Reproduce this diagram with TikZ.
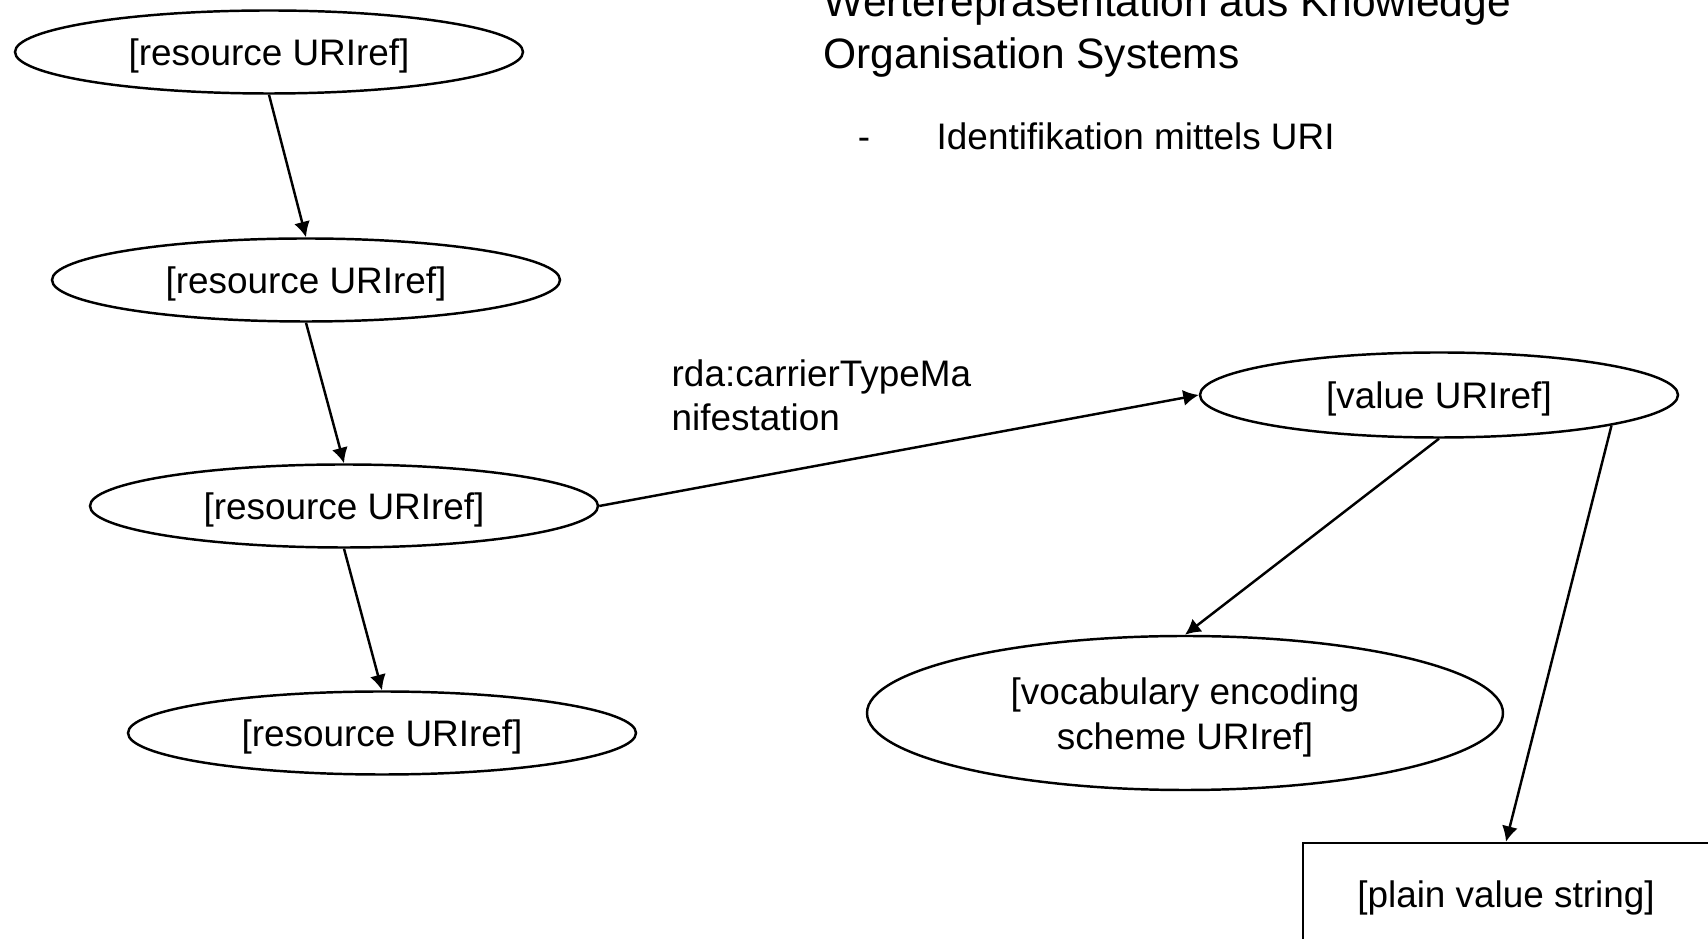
\documentclass[tikz,border=0pt]{standalone}
\usepackage{fontspec}
\setmainfont{Liberation Sans}
\usepackage{tikz}
\usetikzlibrary{shapes.geometric , arrows.meta}

\begin{document}
\begin{tikzpicture}[
    knoten/.style = {ellipse , draw , line width = 0.7pt , inner sep = 0pt , minimum width = 5.08cm , minimum height = 0.83cm , text height = 0.97em , text depth = 0.21em , font = \fontsize{10.5}{12.6}\selectfont},
    pfeil/.style = {line width = 0.7pt , -{Latex[length = 4.4pt , width = 4.6pt]}},
    schrift/.style = {font = \fontsize{10.5}{12.6}\selectfont , inner sep = 0pt}
]
    \useasboundingbox (0,0) rectangle (17.08,-9.39);
    \clip (0,0) rectangle (17.08,-9.39);

    % Ressourcen
    \node[knoten] (res1) at (2.69,-0.52) {[resource URIref]};
    \node[knoten] (res2) at (3.06,-2.80) {[resource URIref]};
    \node[knoten] (res3) at (3.44,-5.06) {[resource URIref]};
    \node[knoten] (res4) at (3.82,-7.33) {[resource URIref]};

    % Werte
    \node[knoten , minimum width = 4.78cm , minimum height = 0.85cm] (wert) at (14.39,-3.95) {[value URIref]};
    \node[knoten , text height = , text depth = , minimum width = 6.36cm , minimum height = 1.54cm , align = center] (vokab) at (11.85,-7.13) {\rule{0pt}{0.97em}[vocabulary encoding\\scheme URIref]};
    \node[draw , line width = 0.7pt , schrift , text height = 0.97em , text depth = 0.21em , minimum width = 4.06cm , minimum height = 1.02cm] (string) at (15.06,-8.94) {[plain value string]};

    % Kanten
    \draw[pfeil] (res1.south) -- (res2.north);
    \draw[pfeil] (res2.south) -- (res3.north);
    \draw[pfeil] (res3.south) -- (res4.north);
    \draw[pfeil] (res3.east) -- (wert.west);
    \draw[pfeil] (wert.south) -- (vokab.north);
    \draw[pfeil] (wert.-10) -- (string.north);
    \node[schrift , anchor = west , align = left] (eigenschaft) at (6.71,-3.95) {rda:carrierTypeMa\\nifestation};

    % Text oben
    \node[anchor = west , align = left , inner sep = 0pt , font = \fontsize{12.1}{14.8}\selectfont] (titel) at (8.23,-0.316) {Werterepräsentation aus Knowledge\\Organisation Systems};
    \node[schrift , anchor = west] (punkt) at (9.36,-1.36) {Identifikation mittels URI};
    \node[schrift , anchor = base] (strich) at (8.64,0 |- punkt.base) {-};
\end{tikzpicture}
\end{document}
